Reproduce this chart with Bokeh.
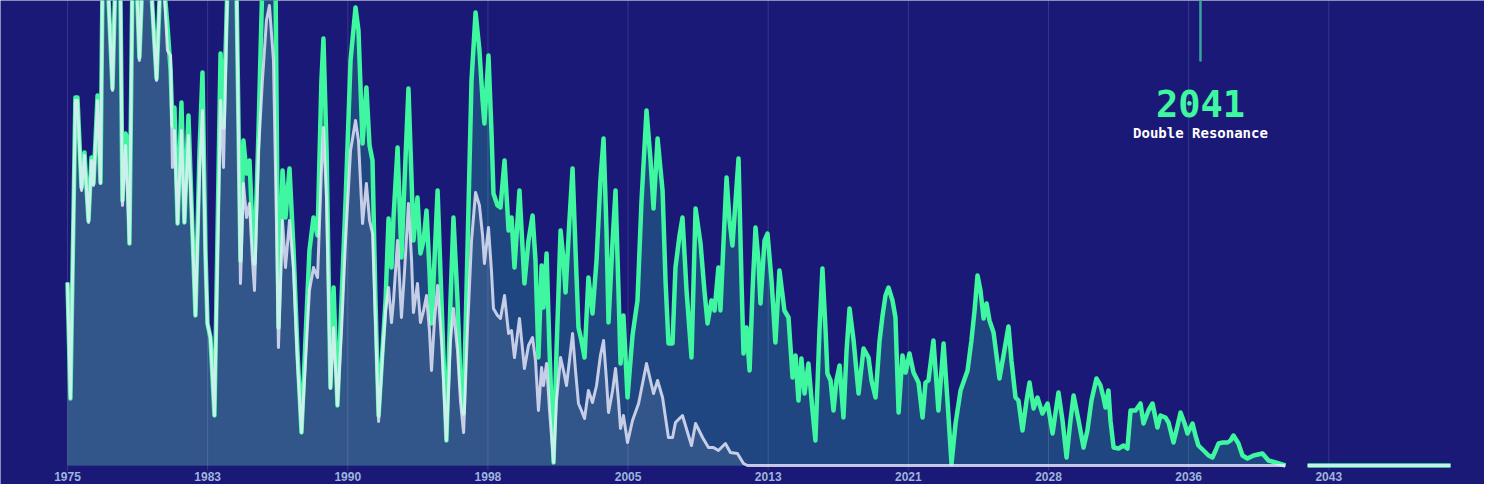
from bokeh.plotting import figure
from bokeh.models import Range1d
from bokeh.core.properties import value
from bokeh.embed import file_html
from bokeh.resources import INLINE

NAN = float("nan")

# ---- data (year, level) ----
green_points = [
(1975.00,183),(1975.16,67),(1975.43,368),(1975.54,368),(1975.76,278),(1975.92,313),(1976.14,245),(1976.30,308),
(1976.41,282),(1976.63,370),(1976.79,283),(1976.90,485),(1977.17,490),(1977.44,377),(1977.60,490),(1977.87,475),
(1977.98,265),(1978.15,332),(1978.25,325),(1978.36,222),(1978.52,485),(1978.74,490),(1978.90,408),(1979.07,490),
(1979.50,490),(1979.83,387),(1980.04,490),(1980.26,475),(1980.42,440),(1980.59,395),(1980.69,340),(1980.80,358),
(1980.97,242),(1981.18,363),(1981.34,243),(1981.56,350),(1981.78,232),(1981.94,150),(1982.16,315),(1982.32,393),
(1982.48,215),(1982.59,142),(1982.75,128),(1982.97,50),(1983.30,412),(1983.46,338),(1983.68,485),(1983.95,490),
(1984.16,485),(1984.38,205),(1984.54,325),(1984.71,292),(1984.87,305),(1985.03,235),(1985.14,202),(1985.36,335),
(1985.57,485),(1986.01,490),(1986.28,485),(1986.44,138),(1986.66,295),(1986.82,248),(1987.04,297),(1987.26,215),
(1987.47,115),(1987.69,33),(1987.91,128),(1988.12,215),(1988.34,248),(1988.56,230),(1988.77,385),(1988.88,427),
(1989.05,315),(1989.26,78),(1989.43,178),(1989.64,60),(1989.86,165),(1990.08,265),(1990.35,405),(1990.62,458),
(1990.78,435),(1991.00,322),(1991.21,378),(1991.38,320),(1991.54,305),(1991.70,165),(1991.87,50),(1992.08,115),
(1992.25,165),(1992.41,247),(1992.57,198),(1992.68,248),(1992.90,318),(1993.11,208),(1993.28,285),(1993.49,377),
(1993.66,285),(1993.76,225),(1993.98,268),(1994.14,212),(1994.31,225),(1994.47,255),(1994.63,195),(1994.74,142),
(1994.90,205),(1995.07,275),(1995.28,165),(1995.55,25),(1995.77,165),(1995.93,248),(1996.15,165),(1996.31,85),
(1996.48,52),(1996.69,215),(1996.91,385),(1997.13,453),(1997.34,415),(1997.51,365),(1997.61,342),(1997.83,410),
(1997.99,335),(1998.10,272),(1998.32,260),(1998.48,258),(1998.70,305),(1998.92,235),(1999.08,248),(1999.24,198),
(1999.51,275),(1999.78,182),(2000.00,225),(2000.22,250),(2000.38,205),(2000.54,108),(2000.71,200),(2000.81,158),
(2000.98,212),(2001.14,115),(2001.36,3),(2001.52,115),(2001.74,235),(2001.90,205),(2002.01,173),(2002.22,245),
(2002.39,297),(2002.55,215),(2002.71,138),(2002.87,125),(2003.04,108),(2003.25,188),(2003.47,152),(2003.69,205),
(2003.90,285),(2004.07,327),(2004.23,235),(2004.34,143),(2004.56,225),(2004.72,275),(2004.88,175),(2004.99,102),
(2005.15,150),(2005.37,68),(2005.64,130),(2005.91,165),(2006.13,265),(2006.40,355),(2006.62,305),(2006.78,257),
(2007.00,327),(2007.27,275),(2007.43,185),(2007.59,122),(2007.81,122),(2007.97,198),(2008.19,230),(2008.35,248),
(2008.57,175),(2008.84,108),(2009.06,257),(2009.33,222),(2009.54,175),(2009.71,142),(2009.92,165),(2010.09,155),
(2010.30,198),(2010.41,155),(2010.58,225),(2010.74,288),(2010.90,245),(2011.06,220),(2011.23,265),(2011.39,307),
(2011.55,185),(2011.66,112),(2011.82,138),(2011.99,95),(2012.15,175),(2012.31,238),(2012.47,205),(2012.58,162),
(2012.80,225),(2012.96,232),(2013.18,185),(2013.39,123),(2013.61,195),(2013.88,155),(2014.10,148),(2014.32,88),
(2014.48,110),(2014.64,65),(2014.80,107),(2014.97,72),(2015.18,102),(2015.40,55),(2015.56,25),(2015.78,135),
(2015.94,197),(2016.11,135),(2016.21,92),(2016.38,85),(2016.54,55),(2016.70,85),(2016.87,100),(2017.08,48),
(2017.25,115),(2017.41,157),(2017.63,125),(2017.90,72),(2018.17,117),(2018.44,108),(2018.60,85),(2018.82,68),
(2019.04,125),(2019.20,150),(2019.36,170),(2019.52,178),(2019.74,165),(2019.90,148),(2020.07,53),(2020.28,110),
(2020.45,93),(2020.66,112),(2020.88,93),(2021.15,83),(2021.37,48),(2021.53,83),(2021.69,85),(2021.96,125),
(2022.23,55),(2022.51,122),(2022.72,65),(2022.94,2),(2023.16,42),(2023.43,75),(2023.81,95),(2024.02,125),
(2024.19,155),(2024.35,190),(2024.51,175),(2024.68,147),(2024.84,162),(2025.00,145),(2025.22,133),(2025.54,87),
(2025.76,110),(2026.03,139),(2026.19,105),(2026.41,68),(2026.57,65),(2026.79,35),(2027.01,65),(2027.17,83),
(2027.39,57),(2027.60,68),(2027.87,52),(2028.15,62),(2028.42,32),(2028.74,73),(2028.96,45),(2029.18,8),
(2029.39,45),(2029.56,70),(2029.83,45),(2030.10,18),(2030.31,35),(2030.53,65),(2030.80,87),(2031.02,80),
(2031.18,68),(2031.29,58),(2031.45,75),(2031.56,45),(2031.73,18),(2032.00,17),(2032.27,20),(2032.48,17),
(2032.65,55),(2032.92,55),(2033.19,62),(2033.35,42),(2033.62,55),(2033.84,62),(2034.11,38),(2034.27,50),
(2034.54,48),(2034.71,43),(2034.98,23),(2035.20,40),(2035.36,53),(2035.58,42),(2035.74,32),(2036.01,42),
(2036.17,30),(2036.33,20),(2036.61,15),(2036.88,10),(2037.09,8),(2037.26,15),(2037.42,22),(2037.64,23),
(2037.91,23),(2038.07,25),(2038.23,30),(2038.40,25),(2038.50,22),(2038.72,10),(2038.99,7),(2039.32,10),
(2039.80,12),(2040.13,5),(2040.51,3),(2041.05,0),
]

white_points = [
(1975.00,183),(1975.16,67),(1975.43,365),(1975.54,365),(1975.76,275),(1975.92,310),(1976.14,243),(1976.30,305),
(1976.41,280),(1976.63,365),(1976.79,282),(1976.90,485),(1977.17,490),(1977.44,375),(1977.60,490),(1977.87,475),
(1977.98,260),(1978.15,320),(1978.36,222),(1978.52,485),(1978.74,490),(1978.90,405),(1979.07,490),(1979.50,490),
(1979.83,385),(1980.04,490),(1980.26,470),(1980.42,415),(1980.59,410),(1980.69,298),(1980.80,335),(1980.97,242),
(1981.18,335),(1981.34,243),(1981.56,330),(1981.78,230),(1981.94,150),(1982.16,295),(1982.32,355),(1982.48,210),
(1982.59,142),(1982.75,128),(1982.97,50),(1983.30,365),(1983.46,298),(1983.68,485),(1983.95,490),(1984.16,485),
(1984.38,182),(1984.54,282),(1984.71,248),(1984.87,262),(1985.03,205),(1985.14,175),(1985.36,315),(1985.57,385),
(1985.79,445),(1985.95,460),(1986.17,405),(1986.33,245),(1986.44,118),(1986.66,245),(1986.82,198),(1987.04,245),
(1987.26,195),(1987.47,105),(1987.69,33),(1987.91,105),(1988.12,175),(1988.34,198),(1988.56,188),(1988.77,295),
(1988.88,338),(1989.05,265),(1989.26,77),(1989.43,138),(1989.64,60),(1989.86,135),(1990.08,225),(1990.35,315),
(1990.62,345),(1990.78,325),(1991.00,242),(1991.21,282),(1991.38,245),(1991.54,232),(1991.70,145),(1991.87,44),
(1992.08,110),(1992.25,155),(1992.41,178),(1992.57,143),(1992.68,165),(1992.90,225),(1993.11,148),(1993.28,195),
(1993.49,262),(1993.66,205),(1993.76,153),(1993.98,182),(1994.14,143),(1994.31,155),(1994.47,170),(1994.63,135),
(1994.74,95),(1994.90,145),(1995.07,180),(1995.28,125),(1995.55,25),(1995.77,125),(1995.93,157),(1996.15,115),
(1996.31,65),(1996.48,33),(1996.69,135),(1996.91,225),(1997.13,273),(1997.34,260),(1997.51,230),(1997.61,202),
(1997.83,238),(1997.99,195),(1998.10,157),(1998.32,150),(1998.48,147),(1998.70,170),(1998.92,132),(1999.08,135),
(1999.24,108),(1999.51,147),(1999.78,97),(2000.00,120),(2000.22,128),(2000.38,105),(2000.54,55),(2000.71,98),
(2000.81,80),(2000.98,102),(2001.14,55),(2001.36,3),(2001.52,65),(2001.74,108),(2001.90,95),(2002.06,80),
(2002.22,105),(2002.39,132),(2002.55,95),(2002.71,62),(2002.87,55),(2003.04,47),(2003.25,75),(2003.47,63),
(2003.69,80),(2003.90,110),(2004.07,125),(2004.23,85),(2004.34,53),(2004.56,75),(2004.72,97),(2004.88,65),
(2004.99,37),(2005.15,50),(2005.37,23),(2005.64,45),(2005.97,62),(2006.40,102),(2006.78,72),(2007.00,85),
(2007.27,68),(2007.59,28),(2007.81,28),(2007.97,43),(2008.35,50),(2008.84,20),(2009.06,42),(2009.44,28),
(2009.76,18),(2010.03,18),(2010.30,15),(2010.68,22),(2010.95,13),(2011.33,12),(2011.66,2),(2011.88,0),
(2041.05,0),
]

# missing stretch, then flat tail
tail_points = [(2041.60, NAN), (2042.25, 0), (2050.00, 0)]

tick_years = [1975.0, 1982.6, 1990.2, 1997.8, 2005.4, 2013.0, 2020.6, 2028.2, 2035.8, 2043.4]
tick_labels = ["1975", "1983", "1990", "1998", "2005", "2013", "2021", "2028", "2036", "2043"]

marker_year = 2036.44
marker_title = "2041"
marker_subtitle = "Double Resonance"

# ---- styling ----
BG = "#1b1977"
GREEN = "#3ff7a0"
GREEN_FILL = "#1f4681"
WHITE_FILL = "#32558a"
MONO = "DejaVu Sans Mono"

gx = [p[0] for p in green_points]
gy = [p[1] for p in green_points]
wx = [p[0] for p in white_points]
wy = [p[1] for p in white_points]
tx = [p[0] for p in tail_points]
ty = [p[1] for p in tail_points]

# one frame covering the whole canvas; 18.44 px per year, 1 px per level unit
PX_PER_YEAR = 18.44
x_lo = 1975 - 67 / PX_PER_YEAR
x_hi = x_lo + 1484 / PX_PER_YEAR

p = figure(width=1484, height=484, x_range=Range1d(x_lo, x_hi), y_range=Range1d(-19, 465),
           output_backend="svg", toolbar_location=None, x_axis_location=None, y_axis_location=None,
           min_border=0)
p.background_fill_color = BG
p.border_fill_color = BG
p.outline_line_color = None
p.grid.visible = False

ga = p.varea(x=gx, y1=[0] * len(gx), y2=gy, fill_color=GREEN_FILL)
wa = p.varea(x=wx, y1=[0] * len(wx), y2=wy, fill_color=WHITE_FILL)
ga.level = "image"
wa.level = "image"

# vertical grid lines at the ticks, above the fills, below the lines
grid = p.segment(x0=tick_years, y0=[-5] * len(tick_years), x1=tick_years, y1=[470] * len(tick_years),
                 line_color="#ffffff", line_alpha=0.13, line_width=1)
grid.level = "underlay"

# tick labels
p.text(x=tick_years, y=[-11] * len(tick_years), text=tick_labels, text_font=value("Liberation Sans"),
       text_font_size="12px", text_font_style="bold", text_color="#9db4dc",
       text_align="center", text_baseline="middle")

p.line(gx + tx, gy + ty, line_color=GREEN, line_width=4.5, line_join="round")
p.line(wx + tx, wy + ty, line_color="#eeeeff", line_alpha=0.8, line_width=3, line_join="round")

# annotation
p.segment(x0=[marker_year], y0=[405], x1=[marker_year], y1=[480], line_color="#3aa39b",
          line_width=2.5, line_cap="round")
p.text(x=[marker_year], y=[362], text=[marker_title], text_font=value(MONO), text_font_size="37px",
       text_font_style="bold", text_color=GREEN, text_align="center", text_baseline="alphabetic")
p.text(x=[marker_year], y=[333], text=[marker_subtitle], text_font=value(MONO), text_font_size="14px",
       text_font_style="bold", text_color="#ffffff", text_align="center", text_baseline="alphabetic")

open("out.html", "w").write(file_html(p, INLINE))
